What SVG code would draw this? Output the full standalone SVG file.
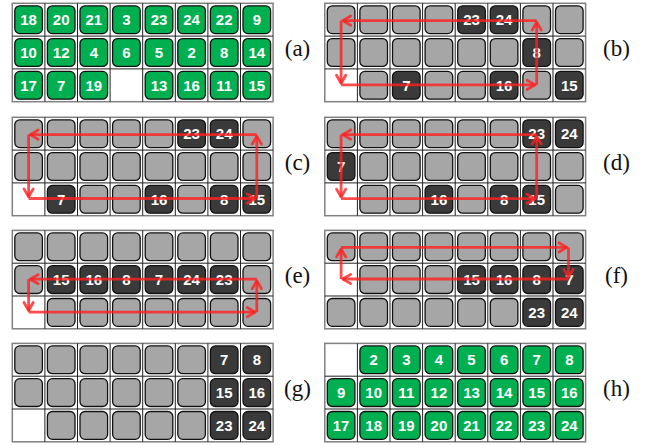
<svg xmlns="http://www.w3.org/2000/svg" xmlns:xlink="http://www.w3.org/1999/xlink" width="652" height="445" viewBox="0 0 652 445">
<style>
.gn{fill:#00B050}
.gy{fill:#A6A6A6}
.dk{fill:#3A3A3A}
.n{font-family:"Liberation Sans",Arial,sans-serif;font-weight:700;font-size:15px;fill:#fff;text-anchor:middle}
.lbl{font-family:"Liberation Serif","Times New Roman",serif;font-size:23px;fill:#111;text-anchor:middle}
.gl{fill:none;stroke:#222;stroke-width:1}
.fr{fill:none;stroke:#808080;stroke-width:1.5}
.arr{fill:none;stroke:#FF2020;stroke-opacity:0.8;stroke-width:2.8;marker-end:url(#ah)}
</style>
<defs>
<rect id="tile" width="27.6" height="27.8" rx="5" ry="5" stroke="#111" stroke-width="1.3"/>
<g id="grid">
<rect class="fr" x="0" y="0" width="260.8" height="98.4" fill="#fff"/>
<path class="gl" d="M32.6 0V98.4M65.2 0V98.4M97.8 0V98.4M130.4 0V98.4M163 0V98.4M195.6 0V98.4M228.2 0V98.4M0 32.8H260.8M0 65.6H260.8"/>
</g>
<marker id="ah" markerUnits="userSpaceOnUse" viewBox="-10 -6 12 12" refX="0" refY="0" markerWidth="12" markerHeight="12" orient="auto" overflow="visible">
<path d="M-8,-4.6L0,0L-8,4.6" fill="none" stroke="#FF2020" stroke-opacity="0.8" stroke-width="2.8" stroke-linecap="round" stroke-linejoin="round"/>
</marker>
</defs>

<!-- (a) -->
<g id="panel-a" transform="translate(12.3,3.3)">
<use href="#grid"/>
<g id="a-18"><use class="gn" href="#tile" x="2.5" y="2.5"/><text class="n" x="16.3" y="21.8">18</text></g>
<g id="a-20"><use class="gn" href="#tile" x="35.1" y="2.5"/><text class="n" x="48.9" y="21.8">20</text></g>
<g id="a-21"><use class="gn" href="#tile" x="67.7" y="2.5"/><text class="n" x="81.5" y="21.8">21</text></g>
<g id="a-3"><use class="gn" href="#tile" x="100.3" y="2.5"/><text class="n" x="114.1" y="21.8">3</text></g>
<g id="a-23"><use class="gn" href="#tile" x="132.9" y="2.5"/><text class="n" x="146.7" y="21.8">23</text></g>
<g id="a-24"><use class="gn" href="#tile" x="165.5" y="2.5"/><text class="n" x="179.3" y="21.8">24</text></g>
<g id="a-22"><use class="gn" href="#tile" x="198.1" y="2.5"/><text class="n" x="211.9" y="21.8">22</text></g>
<g id="a-9"><use class="gn" href="#tile" x="230.7" y="2.5"/><text class="n" x="244.5" y="21.8">9</text></g>
<g id="a-10"><use class="gn" href="#tile" x="2.5" y="35.3"/><text class="n" x="16.3" y="54.6">10</text></g>
<g id="a-12"><use class="gn" href="#tile" x="35.1" y="35.3"/><text class="n" x="48.9" y="54.6">12</text></g>
<g id="a-4"><use class="gn" href="#tile" x="67.7" y="35.3"/><text class="n" x="81.5" y="54.6">4</text></g>
<g id="a-6"><use class="gn" href="#tile" x="100.3" y="35.3"/><text class="n" x="114.1" y="54.6">6</text></g>
<g id="a-5"><use class="gn" href="#tile" x="132.9" y="35.3"/><text class="n" x="146.7" y="54.6">5</text></g>
<g id="a-2"><use class="gn" href="#tile" x="165.5" y="35.3"/><text class="n" x="179.3" y="54.6">2</text></g>
<g id="a-8"><use class="gn" href="#tile" x="198.1" y="35.3"/><text class="n" x="211.9" y="54.6">8</text></g>
<g id="a-14"><use class="gn" href="#tile" x="230.7" y="35.3"/><text class="n" x="244.5" y="54.6">14</text></g>
<g id="a-17"><use class="gn" href="#tile" x="2.5" y="68.1"/><text class="n" x="16.3" y="87.4">17</text></g>
<g id="a-7"><use class="gn" href="#tile" x="35.1" y="68.1"/><text class="n" x="48.9" y="87.4">7</text></g>
<g id="a-19"><use class="gn" href="#tile" x="67.7" y="68.1"/><text class="n" x="81.5" y="87.4">19</text></g>
<g id="a-13"><use class="gn" href="#tile" x="132.9" y="68.1"/><text class="n" x="146.7" y="87.4">13</text></g>
<g id="a-16"><use class="gn" href="#tile" x="165.5" y="68.1"/><text class="n" x="179.3" y="87.4">16</text></g>
<g id="a-11"><use class="gn" href="#tile" x="198.1" y="68.1"/><text class="n" x="211.9" y="87.4">11</text></g>
<g id="a-15"><use class="gn" href="#tile" x="230.7" y="68.1"/><text class="n" x="244.5" y="87.4">15</text></g>
</g>
<text class="lbl" x="297.5" y="56">(a)</text>

<!-- (b) -->
<g id="panel-b" transform="translate(324.8,3.3)">
<use href="#grid"/>
<use class="gy" href="#tile" x="2.5" y="2.5"/><use class="gy" href="#tile" x="35.1" y="2.5"/><use class="gy" href="#tile" x="67.7" y="2.5"/><use class="gy" href="#tile" x="100.3" y="2.5"/>
<g id="b-23"><use class="dk" href="#tile" x="132.9" y="2.5"/><text class="n" x="146.7" y="21.8">23</text></g>
<g id="b-24"><use class="dk" href="#tile" x="165.5" y="2.5"/><text class="n" x="179.3" y="21.8">24</text></g>
<use class="gy" href="#tile" x="198.1" y="2.5"/><use class="gy" href="#tile" x="230.7" y="2.5"/>
<use class="gy" href="#tile" x="2.5" y="35.3"/><use class="gy" href="#tile" x="35.1" y="35.3"/><use class="gy" href="#tile" x="67.7" y="35.3"/><use class="gy" href="#tile" x="100.3" y="35.3"/><use class="gy" href="#tile" x="132.9" y="35.3"/><use class="gy" href="#tile" x="165.5" y="35.3"/>
<g id="b-8"><use class="dk" href="#tile" x="198.1" y="35.3"/><text class="n" x="211.9" y="54.6">8</text></g>
<use class="gy" href="#tile" x="230.7" y="35.3"/>
<use class="gy" href="#tile" x="35.1" y="68.1"/>
<g id="b-7"><use class="dk" href="#tile" x="67.7" y="68.1"/><text class="n" x="81.5" y="87.4">7</text></g>
<use class="gy" href="#tile" x="100.3" y="68.1"/><use class="gy" href="#tile" x="132.9" y="68.1"/>
<g id="b-16"><use class="dk" href="#tile" x="165.5" y="68.1"/><text class="n" x="179.3" y="87.4">16</text></g>
<use class="gy" href="#tile" x="198.1" y="68.1"/>
<g id="b-15"><use class="dk" href="#tile" x="230.7" y="68.1"/><text class="n" x="244.5" y="87.4">15</text></g>
</g>
<text class="lbl" x="616.5" y="56">(b)</text>

<!-- (c) -->
<g id="panel-c" transform="translate(12.3,117.3)">
<use href="#grid"/>
<use class="gy" href="#tile" x="2.5" y="2.5"/><use class="gy" href="#tile" x="35.1" y="2.5"/><use class="gy" href="#tile" x="67.7" y="2.5"/><use class="gy" href="#tile" x="100.3" y="2.5"/><use class="gy" href="#tile" x="132.9" y="2.5"/>
<g id="c-23"><use class="dk" href="#tile" x="165.5" y="2.5"/><text class="n" x="179.3" y="21.8">23</text></g>
<g id="c-24"><use class="dk" href="#tile" x="198.1" y="2.5"/><text class="n" x="211.9" y="21.8">24</text></g>
<use class="gy" href="#tile" x="230.7" y="2.5"/>
<use class="gy" href="#tile" x="2.5" y="35.3"/><use class="gy" href="#tile" x="35.1" y="35.3"/><use class="gy" href="#tile" x="67.7" y="35.3"/><use class="gy" href="#tile" x="100.3" y="35.3"/><use class="gy" href="#tile" x="132.9" y="35.3"/><use class="gy" href="#tile" x="165.5" y="35.3"/><use class="gy" href="#tile" x="198.1" y="35.3"/><use class="gy" href="#tile" x="230.7" y="35.3"/>
<g id="c-7"><use class="dk" href="#tile" x="35.1" y="68.1"/><text class="n" x="48.9" y="87.4">7</text></g>
<use class="gy" href="#tile" x="67.7" y="68.1"/><use class="gy" href="#tile" x="100.3" y="68.1"/>
<g id="c-16"><use class="dk" href="#tile" x="132.9" y="68.1"/><text class="n" x="146.7" y="87.4">16</text></g>
<use class="gy" href="#tile" x="165.5" y="68.1"/>
<g id="c-8"><use class="dk" href="#tile" x="198.1" y="68.1"/><text class="n" x="211.9" y="87.4">8</text></g>
<g id="c-15"><use class="dk" href="#tile" x="230.7" y="68.1"/><text class="n" x="244.5" y="87.4">15</text></g>
</g>
<text class="lbl" x="297.5" y="170">(c)</text>

<!-- (d) -->
<g id="panel-d" transform="translate(324.8,117.3)">
<use href="#grid"/>
<use class="gy" href="#tile" x="2.5" y="2.5"/><use class="gy" href="#tile" x="35.1" y="2.5"/><use class="gy" href="#tile" x="67.7" y="2.5"/><use class="gy" href="#tile" x="100.3" y="2.5"/><use class="gy" href="#tile" x="132.9" y="2.5"/><use class="gy" href="#tile" x="165.5" y="2.5"/>
<g id="d-23"><use class="dk" href="#tile" x="198.1" y="2.5"/><text class="n" x="211.9" y="21.8">23</text></g>
<g id="d-24"><use class="dk" href="#tile" x="230.7" y="2.5"/><text class="n" x="244.5" y="21.8">24</text></g>
<g id="d-7"><use class="dk" href="#tile" x="2.5" y="35.3"/><text class="n" x="16.3" y="54.6">7</text></g>
<use class="gy" href="#tile" x="35.1" y="35.3"/><use class="gy" href="#tile" x="67.7" y="35.3"/><use class="gy" href="#tile" x="100.3" y="35.3"/><use class="gy" href="#tile" x="132.9" y="35.3"/><use class="gy" href="#tile" x="165.5" y="35.3"/><use class="gy" href="#tile" x="198.1" y="35.3"/><use class="gy" href="#tile" x="230.7" y="35.3"/>
<use class="gy" href="#tile" x="35.1" y="68.1"/><use class="gy" href="#tile" x="67.7" y="68.1"/>
<g id="d-16"><use class="dk" href="#tile" x="100.3" y="68.1"/><text class="n" x="114.1" y="87.4">16</text></g>
<use class="gy" href="#tile" x="132.9" y="68.1"/>
<g id="d-8"><use class="dk" href="#tile" x="165.5" y="68.1"/><text class="n" x="179.3" y="87.4">8</text></g>
<g id="d-15"><use class="dk" href="#tile" x="198.1" y="68.1"/><text class="n" x="211.9" y="87.4">15</text></g>
<use class="gy" href="#tile" x="230.7" y="68.1"/>
</g>
<text class="lbl" x="616.5" y="170">(d)</text>

<!-- (e) -->
<g id="panel-e" transform="translate(12.3,230.4)">
<use href="#grid"/>
<use class="gy" href="#tile" x="2.5" y="2.5"/><use class="gy" href="#tile" x="35.1" y="2.5"/><use class="gy" href="#tile" x="67.7" y="2.5"/><use class="gy" href="#tile" x="100.3" y="2.5"/><use class="gy" href="#tile" x="132.9" y="2.5"/><use class="gy" href="#tile" x="165.5" y="2.5"/><use class="gy" href="#tile" x="198.1" y="2.5"/><use class="gy" href="#tile" x="230.7" y="2.5"/>
<use class="gy" href="#tile" x="2.5" y="35.3"/>
<g id="e-15"><use class="dk" href="#tile" x="35.1" y="35.3"/><text class="n" x="48.9" y="54.6">15</text></g>
<g id="e-16"><use class="dk" href="#tile" x="67.7" y="35.3"/><text class="n" x="81.5" y="54.6">16</text></g>
<g id="e-8"><use class="dk" href="#tile" x="100.3" y="35.3"/><text class="n" x="114.1" y="54.6">8</text></g>
<g id="e-7"><use class="dk" href="#tile" x="132.9" y="35.3"/><text class="n" x="146.7" y="54.6">7</text></g>
<g id="e-24"><use class="dk" href="#tile" x="165.5" y="35.3"/><text class="n" x="179.3" y="54.6">24</text></g>
<g id="e-23"><use class="dk" href="#tile" x="198.1" y="35.3"/><text class="n" x="211.9" y="54.6">23</text></g>
<use class="gy" href="#tile" x="230.7" y="35.3"/>
<use class="gy" href="#tile" x="35.1" y="68.1"/><use class="gy" href="#tile" x="67.7" y="68.1"/><use class="gy" href="#tile" x="100.3" y="68.1"/><use class="gy" href="#tile" x="132.9" y="68.1"/><use class="gy" href="#tile" x="165.5" y="68.1"/><use class="gy" href="#tile" x="198.1" y="68.1"/><use class="gy" href="#tile" x="230.7" y="68.1"/>
</g>
<text class="lbl" x="297.5" y="283.2">(e)</text>

<!-- (f) -->
<g id="panel-f" transform="translate(324.8,230.4)">
<use href="#grid"/>
<use class="gy" href="#tile" x="2.5" y="2.5"/><use class="gy" href="#tile" x="35.1" y="2.5"/><use class="gy" href="#tile" x="67.7" y="2.5"/><use class="gy" href="#tile" x="100.3" y="2.5"/><use class="gy" href="#tile" x="132.9" y="2.5"/><use class="gy" href="#tile" x="165.5" y="2.5"/><use class="gy" href="#tile" x="198.1" y="2.5"/><use class="gy" href="#tile" x="230.7" y="2.5"/>
<use class="gy" href="#tile" x="35.1" y="35.3"/><use class="gy" href="#tile" x="67.7" y="35.3"/><use class="gy" href="#tile" x="100.3" y="35.3"/>
<g id="f-15"><use class="dk" href="#tile" x="132.9" y="35.3"/><text class="n" x="146.7" y="54.6">15</text></g>
<g id="f-16"><use class="dk" href="#tile" x="165.5" y="35.3"/><text class="n" x="179.3" y="54.6">16</text></g>
<g id="f-8"><use class="dk" href="#tile" x="198.1" y="35.3"/><text class="n" x="211.9" y="54.6">8</text></g>
<g id="f-7"><use class="dk" href="#tile" x="230.7" y="35.3"/><text class="n" x="244.5" y="54.6">7</text></g>
<use class="gy" href="#tile" x="2.5" y="68.1"/><use class="gy" href="#tile" x="35.1" y="68.1"/><use class="gy" href="#tile" x="67.7" y="68.1"/><use class="gy" href="#tile" x="100.3" y="68.1"/><use class="gy" href="#tile" x="132.9" y="68.1"/><use class="gy" href="#tile" x="165.5" y="68.1"/>
<g id="f-23"><use class="dk" href="#tile" x="198.1" y="68.1"/><text class="n" x="211.9" y="87.4">23</text></g>
<g id="f-24"><use class="dk" href="#tile" x="230.7" y="68.1"/><text class="n" x="244.5" y="87.4">24</text></g>
</g>
<text class="lbl" x="616.5" y="283.2">(f)</text>

<!-- (g) -->
<g id="panel-g" transform="translate(12.3,343.4)">
<use href="#grid"/>
<use class="gy" href="#tile" x="2.5" y="2.5"/><use class="gy" href="#tile" x="35.1" y="2.5"/><use class="gy" href="#tile" x="67.7" y="2.5"/><use class="gy" href="#tile" x="100.3" y="2.5"/><use class="gy" href="#tile" x="132.9" y="2.5"/><use class="gy" href="#tile" x="165.5" y="2.5"/>
<g id="g-7"><use class="dk" href="#tile" x="198.1" y="2.5"/><text class="n" x="211.9" y="21.8">7</text></g>
<g id="g-8"><use class="dk" href="#tile" x="230.7" y="2.5"/><text class="n" x="244.5" y="21.8">8</text></g>
<use class="gy" href="#tile" x="2.5" y="35.3"/><use class="gy" href="#tile" x="35.1" y="35.3"/><use class="gy" href="#tile" x="67.7" y="35.3"/><use class="gy" href="#tile" x="100.3" y="35.3"/><use class="gy" href="#tile" x="132.9" y="35.3"/><use class="gy" href="#tile" x="165.5" y="35.3"/>
<g id="g-15"><use class="dk" href="#tile" x="198.1" y="35.3"/><text class="n" x="211.9" y="54.6">15</text></g>
<g id="g-16"><use class="dk" href="#tile" x="230.7" y="35.3"/><text class="n" x="244.5" y="54.6">16</text></g>
<use class="gy" href="#tile" x="35.1" y="68.1"/><use class="gy" href="#tile" x="67.7" y="68.1"/><use class="gy" href="#tile" x="100.3" y="68.1"/><use class="gy" href="#tile" x="132.9" y="68.1"/><use class="gy" href="#tile" x="165.5" y="68.1"/>
<g id="g-23"><use class="dk" href="#tile" x="198.1" y="68.1"/><text class="n" x="211.9" y="87.4">23</text></g>
<g id="g-24"><use class="dk" href="#tile" x="230.7" y="68.1"/><text class="n" x="244.5" y="87.4">24</text></g>
</g>
<text class="lbl" x="297.5" y="396.4">(g)</text>

<!-- (h) -->
<g id="panel-h" transform="translate(324.8,343.4)">
<use href="#grid"/>
<g id="h-2"><use class="gn" href="#tile" x="35.1" y="2.5"/><text class="n" x="48.9" y="21.8">2</text></g>
<g id="h-3"><use class="gn" href="#tile" x="67.7" y="2.5"/><text class="n" x="81.5" y="21.8">3</text></g>
<g id="h-4"><use class="gn" href="#tile" x="100.3" y="2.5"/><text class="n" x="114.1" y="21.8">4</text></g>
<g id="h-5"><use class="gn" href="#tile" x="132.9" y="2.5"/><text class="n" x="146.7" y="21.8">5</text></g>
<g id="h-6"><use class="gn" href="#tile" x="165.5" y="2.5"/><text class="n" x="179.3" y="21.8">6</text></g>
<g id="h-7"><use class="gn" href="#tile" x="198.1" y="2.5"/><text class="n" x="211.9" y="21.8">7</text></g>
<g id="h-8"><use class="gn" href="#tile" x="230.7" y="2.5"/><text class="n" x="244.5" y="21.8">8</text></g>
<g id="h-9"><use class="gn" href="#tile" x="2.5" y="35.3"/><text class="n" x="16.3" y="54.6">9</text></g>
<g id="h-10"><use class="gn" href="#tile" x="35.1" y="35.3"/><text class="n" x="48.9" y="54.6">10</text></g>
<g id="h-11"><use class="gn" href="#tile" x="67.7" y="35.3"/><text class="n" x="81.5" y="54.6">11</text></g>
<g id="h-12"><use class="gn" href="#tile" x="100.3" y="35.3"/><text class="n" x="114.1" y="54.6">12</text></g>
<g id="h-13"><use class="gn" href="#tile" x="132.9" y="35.3"/><text class="n" x="146.7" y="54.6">13</text></g>
<g id="h-14"><use class="gn" href="#tile" x="165.5" y="35.3"/><text class="n" x="179.3" y="54.6">14</text></g>
<g id="h-15"><use class="gn" href="#tile" x="198.1" y="35.3"/><text class="n" x="211.9" y="54.6">15</text></g>
<g id="h-16"><use class="gn" href="#tile" x="230.7" y="35.3"/><text class="n" x="244.5" y="54.6">16</text></g>
<g id="h-17"><use class="gn" href="#tile" x="2.5" y="68.1"/><text class="n" x="16.3" y="87.4">17</text></g>
<g id="h-18"><use class="gn" href="#tile" x="35.1" y="68.1"/><text class="n" x="48.9" y="87.4">18</text></g>
<g id="h-19"><use class="gn" href="#tile" x="67.7" y="68.1"/><text class="n" x="81.5" y="87.4">19</text></g>
<g id="h-20"><use class="gn" href="#tile" x="100.3" y="68.1"/><text class="n" x="114.1" y="87.4">20</text></g>
<g id="h-21"><use class="gn" href="#tile" x="132.9" y="68.1"/><text class="n" x="146.7" y="87.4">21</text></g>
<g id="h-22"><use class="gn" href="#tile" x="165.5" y="68.1"/><text class="n" x="179.3" y="87.4">22</text></g>
<g id="h-23"><use class="gn" href="#tile" x="198.1" y="68.1"/><text class="n" x="211.9" y="87.4">23</text></g>
<g id="h-24"><use class="gn" href="#tile" x="230.7" y="68.1"/><text class="n" x="244.5" y="87.4">24</text></g>
</g>
<text class="lbl" x="616.5" y="396.4">(h)</text>

<!-- connectors -->
<g id="connectors">
<g id="arrows-b" transform="translate(324.8,3.3)">
<path class="arr" d="M211.9 81.6V18.8"/>
<path class="arr" d="M211.9 17.3H17.9"/>
<path class="arr" d="M16.3 17.3V80"/>
<path class="arr" d="M16.3 81.6H210.3"/>
</g>
<g id="arrows-c" transform="translate(12.3,117.3)">
<path class="arr" d="M244.5 81.2V18.8"/>
<path class="arr" d="M244.5 17.3H17.9"/>
<path class="arr" d="M16.3 17.3V79.6"/>
<path class="arr" d="M16.3 81.2H242.9"/>
</g>
<g id="arrows-d" transform="translate(324.8,117.3)">
<path class="arr" d="M211.9 81.4V18.8"/>
<path class="arr" d="M211.9 17.3H17.9"/>
<path class="arr" d="M16.3 17.3V79.8"/>
<path class="arr" d="M16.3 81.4H210.3"/>
</g>
<g id="arrows-e" transform="translate(12.3,230.4)">
<path class="arr" d="M244.5 81.7V50.3"/>
<path class="arr" d="M244.5 48.8H17.9"/>
<path class="arr" d="M16.3 48.8V80.1"/>
<path class="arr" d="M16.3 81.7H242.9"/>
</g>
<g id="arrows-f" transform="translate(324.8,230.4)">
<path class="arr" d="M16.3 48.6V18.5"/>
<path class="arr" d="M16.3 17H242.1"/>
<path class="arr" d="M243.7 17V47"/>
<path class="arr" d="M243.7 48.6H17.9"/>
</g>
</g>
</svg>
